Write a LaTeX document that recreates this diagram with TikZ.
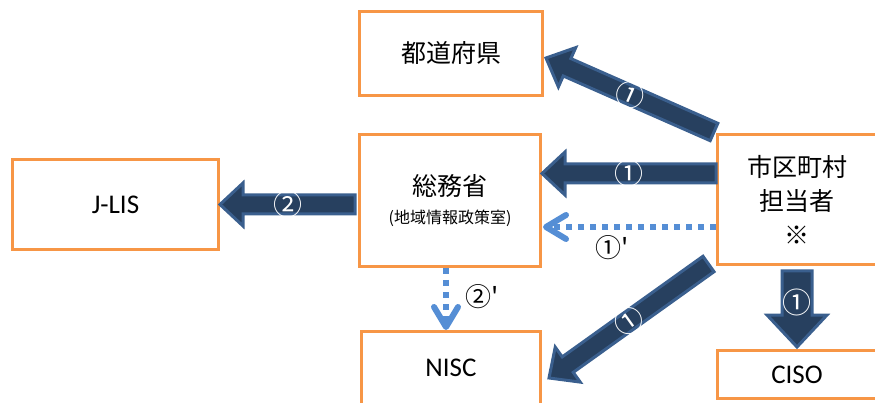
\documentclass[tikz,border=0pt]{standalone}
\usepackage{fontspec}
\setmainfont{Carlito}
\newfontfamily\jpfont{Noto Sans CJK JP}
\usetikzlibrary{calc,arrows.meta}

\definecolor{boxorange}{HTML}{F79646}
\definecolor{arrowfill}{HTML}{27405F}
\definecolor{arrowline}{HTML}{3A5F8E}
\definecolor{dotblue}{HTML}{558ED5}

\tikzset{
  office/.style={draw=boxorange, line width=3pt, fill=white, align=center, inner sep=0pt},
  jptext/.style={font=\jpfont\fontsize{25}{34}\selectfont},
  entext/.style={font=\fontsize{27}{32}\selectfont},
  blockarrow/.style={draw=arrowline, fill=arrowfill, line width=3pt},
  numlabel/.style={text=white, font=\jpfont\fontsize{29}{29}\selectfont, inner sep=0pt},
  steplabel/.style={font=\jpfont\fontsize{26}{26}\selectfont, inner sep=0pt},
  dotarrow/.style={draw=dotblue, line width=6pt, dash pattern=on 6pt off 6pt,
    -{Straight Barb[length=20pt,width=24pt,round]}},
}

% half shaft, half head, head length
\def\arrshaft{9.5pt}\def\arrhead{21.5pt}\def\arrtip{23pt}

% thick block arrow from #1 to #2, label #3 with options #4
\newcommand\blockarrow[4]{%
  \path[blockarrow] let \p1=($(#2)-(#1)$), \n1={atan2(\y1,\x1)}, \n2={veclen(\x1,\y1)} in
    [shift={(#1)}, rotate=\n1]
    (0pt,-\arrshaft) -- ({\n2-\arrtip},-\arrshaft) -- ({\n2-\arrtip},-\arrhead)
    -- ({\n2+0pt},0pt) -- ({\n2-\arrtip},\arrhead) -- ({\n2-\arrtip},\arrshaft)
    -- (0pt,\arrshaft) -- cycle
    ({0.5*\n2+0pt},0pt) node[numlabel, #4] {#3};
}

\begin{document}
\begin{tikzpicture}[x=1pt, y=-1pt]

\useasboundingbox (0,0) rectangle (875,403);
\clip (0,0) rectangle (875,403);

%Offices
\node[office, jptext, minimum width=183pt, minimum height=84pt] (pref) at (451,53.5) {都道府県};
\node[office, jptext, minimum width=181pt, minimum height=132pt] (somu) at (450,200.5)
  {総務省\\[-6pt]{\fontsize{16}{18}\selectfont (地域情報政策室)}};
\node[office, entext, minimum width=206pt, minimum height=90pt] (jlis) at (115.5,204.5) {J-LIS};
\node[office, jptext, minimum width=159pt, minimum height=130pt] (muni) at (797,199.5) {市区町村\\担当者\\※};
\node[office, entext, minimum width=179pt, minimum height=73pt] (nisc) at (451,368) {NISC};
\node[office, entext, minimum width=159pt, minimum height=48pt] (ciso) at (797,374.5) {CISO};

%Ends
\coordinate (t1) at ($(muni.north west)+(-2,-1)$);
\coordinate (p1) at ($(pref.east)+(2,4.5)$);
\coordinate (t2) at ($(muni.west)+(0,-26)$);
\coordinate (p2) at (somu.east |- t2);
\coordinate (t3) at ($(somu.west)+(-3,4)$);
\coordinate (p3) at (jlis.east);
\coordinate (t4) at ($(muni.south west)+(-7.5,-2)$);
\coordinate (p4) at ($(nisc.north east)+(7,48)$);
\coordinate (t5) at ($(muni.south)+(0,5)$);
\coordinate (p5) at ($(ciso.north)+(0,-2)$);
\coordinate (d1s) at ($(muni.west)+(0,27.5)$);
\coordinate (d1e) at ($(somu.east |- d1s)+(1,0)$);
\coordinate (d2s) at ($(somu.south)+(-4,0)$);
\coordinate (d2e) at (d2s |- nisc.north);

%Flows
\blockarrow{t1}{p1}{①}{rotate={\n1+180}}
\blockarrow{t2}{p2}{①}{rotate={\n1+180}}
\blockarrow{t3}{p3}{②}{rotate={\n1+180}}
\blockarrow{t4}{p4}{①}{rotate={\n1+180}}
\def\arrshaft{15pt}\def\arrhead{30pt}\def\arrtip{32pt}
\blockarrow{t5}{p5}{①}{yshift=7pt}

\draw[dotarrow] (d1s) -- (d1e);
\node[steplabel] (l1) at (612,248) {①'};
\draw[dotarrow] (d2s) -- (d2e);
\node[steplabel] (l2) at (482,297) {②'};

\end{tikzpicture}
\end{document}
